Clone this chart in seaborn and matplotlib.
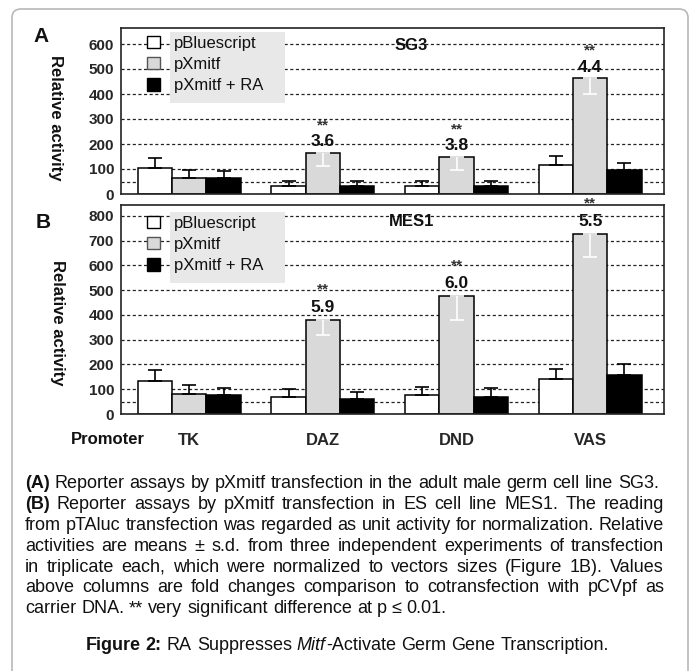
import numpy as np
import pandas as pd
import seaborn as sns
import matplotlib.pyplot as plt
from matplotlib.patches import Rectangle, FancyBboxPatch, Patch
from matplotlib.transforms import IdentityTransform

promoters = ["TK", "DAZ", "DND", "VAS"]
vectors = ["pBluescript", "pXmitf", "pXmitf + RA"]

# panel A, SG3 cells: means and s.d.
sg3_bluescript = [105, 32, 32, 118]
sg3_xmitf = [65, 164, 149, 463]
sg3_xmitf_ra = [63, 32, 32, 97]
sg3_bluescript_sd = [40, 20, 20, 33]
sg3_xmitf_sd = [32, 52, 53, 62]
sg3_xmitf_ra_sd = [29, 20, 20, 27]
sg3_fold = ["", "3.6", "3.8", "4.4"]

# panel B, MES1 cells
mes1_bluescript = [133, 68, 78, 140]
mes1_xmitf = [80, 380, 476, 727]
mes1_xmitf_ra = [78, 62, 70, 158]
mes1_bluescript_sd = [45, 31, 30, 40]
mes1_xmitf_sd = [38, 60, 95, 95]
mes1_xmitf_ra_sd = [27, 27, 33, 43]
mes1_fold = ["", "5.9", "6.0", "5.5"]

caption_lines = [
    "(A) Reporter assays by pXmitf transfection in the adult male germ cell line SG3.",
    "(B) Reporter assays by pXmitf transfection in ES cell line MES1. The reading",
    "from pTAluc transfection was regarded as unit activity for normalization. Relative",
    "activities are means ± s.d. from three independent experiments of transfection",
    "in triplicate each, which were normalized to vectors sizes (Figure 1B). Values",
    "above columns are fold changes comparison to cotransfection with pCVpf as",
    "carrier DNA. ** very significant difference at p ≤ 0.01.",
]

W, H = 691, 671
bar_colors = ["white", "#d9d9d9", "black"]
grid_style = dict(color="#222222", linestyle=(0, (2.5, 2.0)), linewidth=0.9)

sns.set_style("white")
plt.rcParams["font.family"] = ["Liberation Sans", "DejaVu Sans"]
plt.rcParams["text.color"] = "#111111"


def axes_box(left, top, right, bottom):
    return [left / W, 1 - bottom / H, (right - left) / W, (bottom - top) / H]


def draw_panel(ax, means, sds, folds, ymax, ticks, title, ax_h, legend_top, fold_off):
    df = pd.DataFrame({
        "promoter": promoters * 3,
        "vector": np.repeat(vectors, len(promoters)),
        "activity": means[0] + means[1] + means[2],
    })
    ax.set_axisbelow(True)
    sns.barplot(data=df, x="promoter", y="activity", hue="vector", order=promoters,
                hue_order=vectors, palette=bar_colors, saturation=1, width=0.77,
                edgecolor="black", linewidth=1.1, errorbar=None, legend=False, ax=ax)

    bar_groups = list(ax.containers)
    for k, cont in enumerate(bar_groups):
        for bar in cont.patches:
            xc = bar.get_x() + bar.get_width() / 2
            i = int(round(xc))
            h = bar.get_height()
            sd = sds[k][i]
            if k == 1 and folds[i]:
                ax.errorbar(xc, h, yerr=[[sd], [0]], fmt="none", ecolor="white",
                            elinewidth=1.2, capsize=4.7, capthick=1.2, zorder=3)
                ax.annotate(folds[i], (xc, h), xytext=(0, fold_off[0]),
                            textcoords="offset points", ha="center", va="center",
                            fontsize=12.5, fontweight="bold")
                ax.annotate("**", (xc, h), xytext=(0, fold_off[1]),
                            textcoords="offset points", ha="center", va="center",
                            fontsize=11, fontweight="bold", color="#333333")
            else:
                ax.errorbar(xc, h, yerr=[[0], [sd]], fmt="none", ecolor="black",
                            elinewidth=1.2, capsize=4.7, capthick=1.2, zorder=3)

    ax.set_ylim(0, ymax)
    ax.set_xlim(-0.511, 3.553)
    ax.set_yticks(ticks, labels=[str(t) for t in ticks], fontsize=11, fontweight="bold")
    ax.grid(axis="y", **grid_style)
    ax.axhline(50, zorder=0.5, **grid_style)
    ax.tick_params(axis="y", length=0, pad=5)
    ax.set_xlabel("")
    ax.set_ylabel("")
    for sp in ax.spines.values():
        sp.set_visible(True)
        sp.set_linewidth(1.2)
        sp.set_color("#222222")

    ax.text(0.535, 1 - 17 / ax_h, title, transform=ax.transAxes, ha="center",
            va="center", fontsize=12, fontweight="bold")

    # grey panel behind the legend labels, the keys stay on white
    ax.add_patch(Rectangle((49 / 543, 1 - legend_top[1] / ax_h), 115 / 543, 71 / ax_h,
                           transform=ax.transAxes, facecolor="#e8e8e8", edgecolor="none",
                           zorder=0.8))
    handles = [Patch(facecolor=c, edgecolor=e, linewidth=1.0)
               for c, e in zip(bar_colors, ["black", "#555555", "black"])]
    ax.legend(handles, vectors, loc="upper left",
              bbox_to_anchor=(26 / 543, 1 - legend_top[0] / ax_h), frameon=False,
              borderpad=0, borderaxespad=0, handlelength=0.8, handleheight=0.75,
              handletextpad=0.8, labelspacing=0.38, fontsize=12)


fig = plt.figure(figsize=(W / 100, H / 100), dpi=100)
ax_a = fig.add_axes(axes_box(121, 28, 664, 194))
ax_b = fig.add_axes(axes_box(121, 205, 664, 414))

draw_panel(ax_a, [sg3_bluescript, sg3_xmitf, sg3_xmitf_ra],
           [sg3_bluescript_sd, sg3_xmitf_sd, sg3_xmitf_ra_sd], sg3_fold,
           664, list(range(0, 601, 100)), "SG3", 166, (7.7, 75), (8, 20))
draw_panel(ax_b, [mes1_bluescript, mes1_xmitf, mes1_xmitf_ra],
           [mes1_bluescript_sd, mes1_xmitf_sd, mes1_xmitf_ra_sd], mes1_fold,
           844, list(range(0, 801, 100)), "MES1", 209, (10.7, 78), (9, 22))

ax_a.tick_params(axis="x", labelbottom=False, length=0)
ax_b.set_xticks(range(len(promoters)), labels=promoters, fontsize=12, fontweight="bold")
ax_b.tick_params(axis="x", length=0, pad=13.5)

fig.text(41 / W, 1 - 37 / H, "A", ha="center", va="center", fontsize=15, fontweight="bold")
fig.text(43 / W, 1 - 222 / H, "B", ha="center", va="center", fontsize=15, fontweight="bold")
fig.text(55 / W, 1 - 118 / H, "Relative activity", rotation=270, ha="center", va="center",
         fontsize=12, fontweight="bold")
fig.text(57 / W, 1 - 323 / H, "Relative activity", rotation=270, ha="center", va="center",
         fontsize=12, fontweight="bold")
fig.text(108 / W, 1 - 439 / H, "Promoter", ha="center", va="center", fontsize=12,
         fontweight="bold")

# outer rounded frame
fig.add_artist(FancyBboxPatch((12 / W, -0.03), 676 / W, 1 - 9 / H + 0.03,
                              boxstyle="round,pad=0,rounding_size=0.013",
                              transform=fig.transFigure, facecolor="none",
                              edgecolor="#b8b8b8", linewidth=1.2))

# caption, set word by word so the middle lines are justified
renderer = fig.canvas.get_renderer()


def word_width(s, size, weight="normal", style="normal"):
    t = fig.text(0, 0, s, fontsize=size, fontweight=weight, fontstyle=style,
                 transform=IdentityTransform())
    w = t.get_window_extent(renderer).width
    t.remove()
    return w


def token_style(w):
    return "bold" if w in ("(A)", "(B)") else "normal"


def space_width(size):
    return word_width("x x", size) - word_width("xx", size)


x_left, x_right = 25, 664
base = 12
first = caption_lines[0].split()
natural = sum(word_width(w, base, token_style(w)) for w in first)
natural += (len(first) - 1) * space_width(base)
cap_size = base * (637 / natural)
space = space_width(cap_size)

for n, line in enumerate(caption_lines):
    words = line.split()
    widths = [word_width(w, cap_size, token_style(w)) for w in words]
    if 0 < n < len(caption_lines) - 1:
        gap = (x_right - x_left - sum(widths)) / (len(words) - 1)
    else:
        gap = space
    x = x_left
    y = H - (484 + n * 20.75)
    for w, wd in zip(words, widths):
        fig.text(x, y, w, fontsize=cap_size, fontweight=token_style(w), ha="left",
                 va="center", transform=IdentityTransform())
        x += wd + gap

title_tokens = [("Figure", "bold", "normal", True), ("2:", "bold", "normal", True),
                ("RA", "normal", "normal", True), ("Suppresses", "normal", "normal", True),
                ("Mitf", "normal", "italic", False), ("-Activate", "normal", "normal", True),
                ("Germ", "normal", "normal", True), ("Gene", "normal", "normal", True),
                ("Transcription.", "normal", "normal", False)]
tw = [word_width(s, cap_size, wt, st) for s, wt, st, _ in title_tokens]
total = sum(tw) + space * sum(1 for t in title_tokens if t[3])
x = 347 - total / 2
for (s, wt, st, sp), wd in zip(title_tokens, tw):
    fig.text(x, H - 646, s, fontsize=cap_size, fontweight=wt, fontstyle=st, ha="left",
             va="center", transform=IdentityTransform())
    x += wd + (space if sp else 0.5)

fig.savefig("out.png", dpi=100)
